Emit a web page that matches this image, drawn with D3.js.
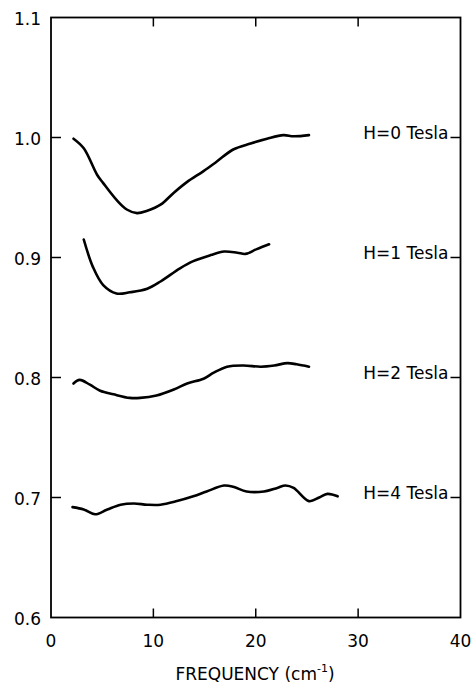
<!DOCTYPE html>
<html>
<head>
<meta charset="utf-8">
<script src="https://cdn.jsdelivr.net/npm/d3@7"></script>
<style>
  body { margin: 0; background: #fff; }
  text { font-family: "DejaVu Sans", sans-serif; fill: #000; }
</style>
</head>
<body>
<svg id="chart" width="474" height="683"></svg>
<script>
// values
var xTicks = [ 0, 10, 20, 30, 40 ];
var yTicks = [ 0.6, 0.7, 0.8, 0.9, 1.0, 1.1 ];
var seriesNames = [ "H=0 Tesla", "H=1 Tesla", "H=2 Tesla", "H=4 Tesla" ];
var labelLevels = [ 1.0, 0.9, 0.8, 0.7 ];

var h0x = [ 2.2, 3.2, 4.5, 5.1, 6.4, 7.4, 8.4, 9.4, 10.7, 12.0, 13.3, 14.9, 16.2, 17.8, 19.5, 21.1, 22.7, 23.7, 25.2 ];
var h0y = [ 0.999, 0.991, 0.969, 0.962, 0.948, 0.940, 0.937, 0.939, 0.944, 0.954, 0.963, 0.972, 0.980, 0.990, 0.995, 0.999, 1.002, 1.001, 1.002 ];

var h1x = [ 3.2, 4.1, 5.1, 6.4, 7.7, 9.4, 10.7, 12.6, 13.9, 15.6, 16.9, 18.2, 19.0, 20.1, 21.3 ];
var h1y = [ 0.915, 0.892, 0.877, 0.870, 0.871, 0.874, 0.880, 0.891, 0.897, 0.902, 0.905, 0.904, 0.903, 0.907, 0.911 ];

var h2x = [ 2.2, 2.8, 3.8, 4.8, 6.1, 7.7, 8.7, 10.3, 12.0, 13.3, 14.9, 15.9, 17.2, 18.8, 20.5, 21.8, 23.1, 24.0, 25.2 ];
var h2y = [ 0.795, 0.798, 0.794, 0.789, 0.786, 0.783, 0.783, 0.785, 0.790, 0.795, 0.799, 0.804, 0.809, 0.810, 0.809, 0.810, 0.812, 0.811, 0.809 ];

var h4x = [ 2.1, 3.2, 4.3, 5.5, 6.8, 8.1, 9.4, 10.7, 12.3, 13.9, 15.2, 16.9, 17.8, 19.1, 20.8, 22.1, 22.9, 23.7, 25.2, 26.2, 27.0, 28.0 ];
var h4y = [ 0.692, 0.690, 0.686, 0.690, 0.694, 0.695, 0.694, 0.694, 0.697, 0.701, 0.705, 0.710, 0.709, 0.705, 0.705, 0.708, 0.710, 0.708, 0.697, 0.700, 0.703, 0.701 ];

(function() {
    var svg = d3.select( "#chart" );
    var mLeft = 51, mRight = 460.5, mTop = 17.5, mBottom = 617.5;

    var x = d3.scaleLinear().domain( [ 0, 40 ] ).range( [ mLeft, mRight ] );
    var y = d3.scaleLinear().domain( [ 0.6, 1.1 ] ).range( [ mBottom, mTop ] );

    function zip( xs, ys ) {
        return xs.map( function( v, i ) { return [ v, ys[ i ] ]; } );
    }

    var series = [ zip( h0x, h0y ), zip( h1x, h1y ), zip( h2x, h2y ), zip( h4x, h4y ) ];

    // frame
    svg.append( "rect" )
        .attr( "x", mLeft ).attr( "y", mTop )
        .attr( "width", mRight - mLeft ).attr( "height", mBottom - mTop )
        .attr( "fill", "none" ).attr( "stroke", "#000" ).attr( "stroke-width", 1.8 );

    // inner ticks
    xTicks.slice( 1, -1 ).forEach( function( t ) {
        svg.append( "line" ).attr( "x1", x( t ) ).attr( "x2", x( t ) )
            .attr( "y1", mBottom ).attr( "y2", mBottom - 9 )
            .attr( "stroke", "#000" ).attr( "stroke-width", 1.5 );
        svg.append( "line" ).attr( "x1", x( t ) ).attr( "x2", x( t ) )
            .attr( "y1", mTop ).attr( "y2", mTop + 9 )
            .attr( "stroke", "#000" ).attr( "stroke-width", 1.5 );
    });

    yTicks.slice( 1, -1 ).forEach( function( t ) {
        svg.append( "line" ).attr( "x1", mLeft ).attr( "x2", mLeft + 10 )
            .attr( "y1", y( t ) ).attr( "y2", y( t ) )
            .attr( "stroke", "#000" ).attr( "stroke-width", 1.5 );
        svg.append( "line" ).attr( "x1", mRight ).attr( "x2", mRight - 10 )
            .attr( "y1", y( t ) ).attr( "y2", y( t ) )
            .attr( "stroke", "#000" ).attr( "stroke-width", 1.5 );
    });

    // tick labels
    svg.selectAll( ".xl" ).data( xTicks ).enter().append( "text" )
        .attr( "x", function( d ) { return x( d ); } )
        .attr( "y", 647 )
        .attr( "text-anchor", "middle" )
        .style( "font-size", "17px" )
        .text( function( d ) { return d; } );

    svg.selectAll( ".yl" ).data( yTicks ).enter().append( "text" )
        .attr( "x", 41 )
        .attr( "y", function( d ) { return y( d ) + 7; } )
        .attr( "text-anchor", "end" )
        .style( "font-size", "17px" )
        .text( function( d ) { return d.toFixed( 1 ); } );

    // axis title
    var title = svg.append( "text" )
        .attr( "x", 255 ).attr( "y", 680 )
        .attr( "text-anchor", "middle" )
        .style( "font-size", "17px" );
    title.append( "tspan" ).text( "FREQUENCY (cm" );
    title.append( "tspan" ).attr( "dy", -8 ).style( "font-size", "11px" ).text( "-1" );
    title.append( "tspan" ).attr( "dy", 8 ).text( ")" );

    // curves
    var line = d3.line()
        .x( function( d ) { return x( d[ 0 ] ); } )
        .y( function( d ) { return y( d[ 1 ] ); } )
        .curve( d3.curveCatmullRom );

    svg.selectAll( ".curve" ).data( series ).enter().append( "path" )
        .attr( "d", line )
        .attr( "fill", "none" )
        .attr( "stroke", "#000" )
        .attr( "stroke-width", 2.6 )
        .attr( "stroke-linecap", "round" );

    // series labels by the right-hand ticks
    svg.selectAll( ".lab" ).data( seriesNames ).enter().append( "text" )
        .attr( "x", mRight - 12 )
        .attr( "y", function( d, i ) { return y( labelLevels[ i ] ) + 1; } )
        .attr( "text-anchor", "end" )
        .style( "font-size", "17px" )
        .text( function( d ) { return d; } );
})();
</script>
</body>
</html>
